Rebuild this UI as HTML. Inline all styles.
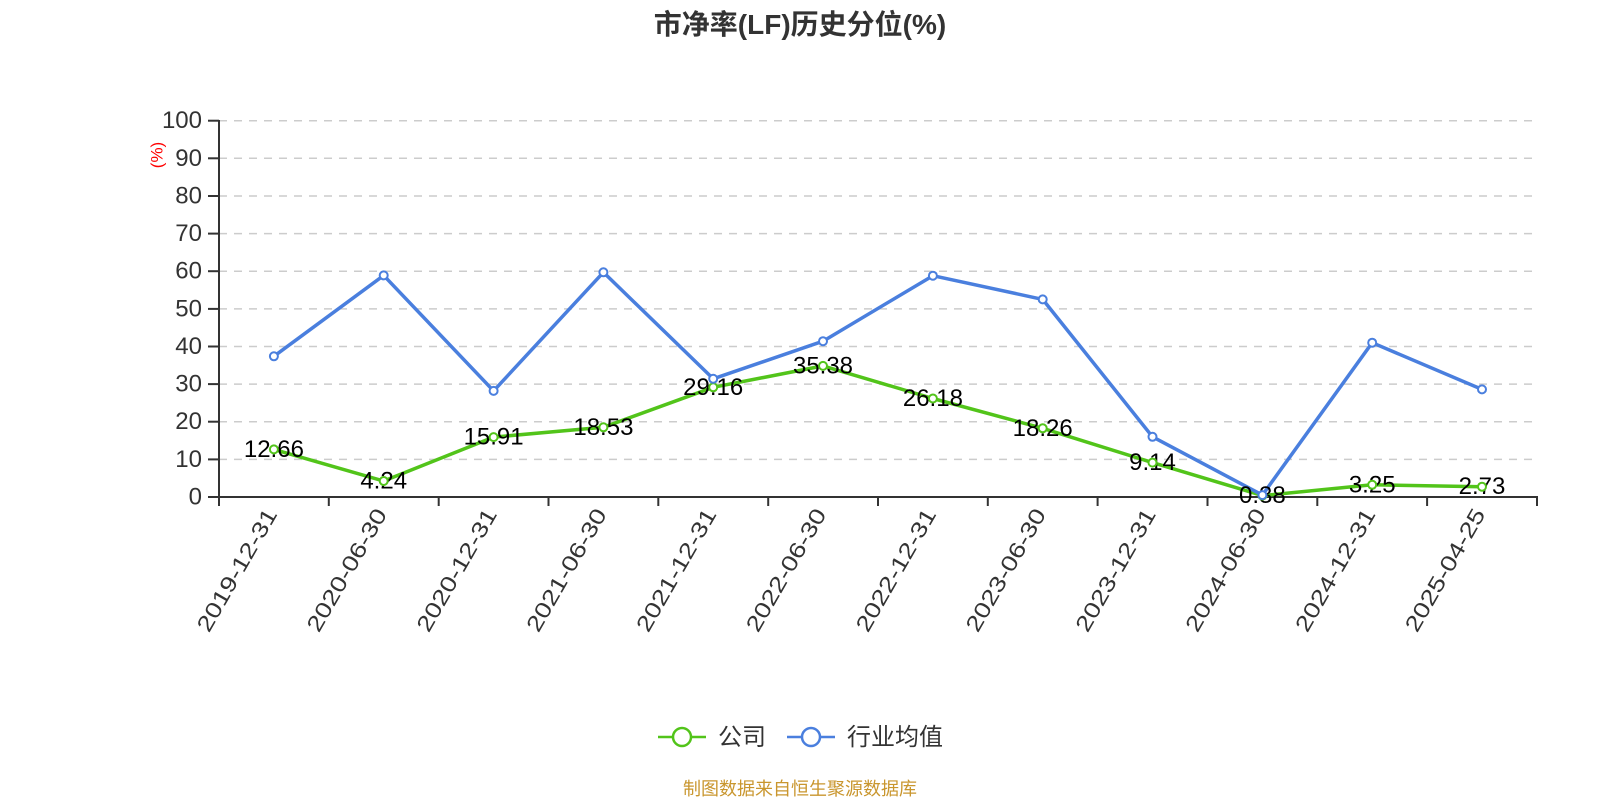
<!DOCTYPE html>
<html><head><meta charset="utf-8"><style>
html,body{margin:0;padding:0;background:#fff;}
svg{display:block;}
text{font-family:"Liberation Sans","Noto Sans CJK SC",sans-serif;}
</style></head><body>
<svg width="1600" height="800" viewBox="0 0 1600 800" xmlns="http://www.w3.org/2000/svg">
<text x="800" y="34" text-anchor="middle" font-size="28" font-weight="bold" fill="#333">市净率(LF)历史分位(%)</text>
<g stroke="#ccc" stroke-width="1.5" stroke-dasharray="8 7">
<line x1="219" y1="120.7" x2="1537" y2="120.7"/>
<line x1="219" y1="158.3" x2="1537" y2="158.3"/>
<line x1="219" y1="196" x2="1537" y2="196"/>
<line x1="219" y1="233.6" x2="1537" y2="233.6"/>
<line x1="219" y1="271.2" x2="1537" y2="271.2"/>
<line x1="219" y1="308.9" x2="1537" y2="308.9"/>
<line x1="219" y1="346.5" x2="1537" y2="346.5"/>
<line x1="219" y1="384.1" x2="1537" y2="384.1"/>
<line x1="219" y1="421.7" x2="1537" y2="421.7"/>
<line x1="219" y1="459.4" x2="1537" y2="459.4"/>
</g>
<g stroke="#333" stroke-width="2">
<line x1="219" y1="120" x2="219" y2="498"/>
<line x1="208" y1="120.7" x2="219" y2="120.7"/>
<line x1="208" y1="158.3" x2="219" y2="158.3"/>
<line x1="208" y1="196" x2="219" y2="196"/>
<line x1="208" y1="233.6" x2="219" y2="233.6"/>
<line x1="208" y1="271.2" x2="219" y2="271.2"/>
<line x1="208" y1="308.9" x2="219" y2="308.9"/>
<line x1="208" y1="346.5" x2="219" y2="346.5"/>
<line x1="208" y1="384.1" x2="219" y2="384.1"/>
<line x1="208" y1="421.7" x2="219" y2="421.7"/>
<line x1="208" y1="459.4" x2="219" y2="459.4"/>
<line x1="208" y1="497" x2="219" y2="497"/>
<line x1="218" y1="497" x2="1538" y2="497"/>
<line x1="219" y1="497" x2="219" y2="506"/>
<line x1="328.8" y1="497" x2="328.8" y2="506"/>
<line x1="438.7" y1="497" x2="438.7" y2="506"/>
<line x1="548.5" y1="497" x2="548.5" y2="506"/>
<line x1="658.3" y1="497" x2="658.3" y2="506"/>
<line x1="768.2" y1="497" x2="768.2" y2="506"/>
<line x1="878" y1="497" x2="878" y2="506"/>
<line x1="987.8" y1="497" x2="987.8" y2="506"/>
<line x1="1097.6" y1="497" x2="1097.6" y2="506"/>
<line x1="1207.5" y1="497" x2="1207.5" y2="506"/>
<line x1="1317.3" y1="497" x2="1317.3" y2="506"/>
<line x1="1427.1" y1="497" x2="1427.1" y2="506"/>
<line x1="1537" y1="497" x2="1537" y2="506"/>
</g>
<g font-size="24" fill="#333" text-anchor="end" dominant-baseline="central">
<text x="202" y="120.7">100</text>
<text x="202" y="158.3">90</text>
<text x="202" y="196">80</text>
<text x="202" y="233.6">70</text>
<text x="202" y="271.2">60</text>
<text x="202" y="308.9">50</text>
<text x="202" y="346.5">40</text>
<text x="202" y="384.1">30</text>
<text x="202" y="421.7">20</text>
<text x="202" y="459.4">10</text>
<text x="202" y="497">0</text>
</g>
<text transform="translate(157,155) rotate(-90)" text-anchor="middle" dominant-baseline="central" font-size="17" fill="#f00">(%)</text>
<g font-size="22" fill="#333" text-anchor="middle" dominant-baseline="central">
<text transform="translate(236.9,570) rotate(-60)" textLength="138" lengthAdjust="spacingAndGlyphs">2019-12-31</text>
<text transform="translate(346.7,570) rotate(-60)" textLength="138" lengthAdjust="spacingAndGlyphs">2020-06-30</text>
<text transform="translate(456.6,570) rotate(-60)" textLength="138" lengthAdjust="spacingAndGlyphs">2020-12-31</text>
<text transform="translate(566.4,570) rotate(-60)" textLength="138" lengthAdjust="spacingAndGlyphs">2021-06-30</text>
<text transform="translate(676.2,570) rotate(-60)" textLength="138" lengthAdjust="spacingAndGlyphs">2021-12-31</text>
<text transform="translate(786,570) rotate(-60)" textLength="138" lengthAdjust="spacingAndGlyphs">2022-06-30</text>
<text transform="translate(895.9,570) rotate(-60)" textLength="138" lengthAdjust="spacingAndGlyphs">2022-12-31</text>
<text transform="translate(1005.7,570) rotate(-60)" textLength="138" lengthAdjust="spacingAndGlyphs">2023-06-30</text>
<text transform="translate(1115.5,570) rotate(-60)" textLength="138" lengthAdjust="spacingAndGlyphs">2023-12-31</text>
<text transform="translate(1225.4,570) rotate(-60)" textLength="138" lengthAdjust="spacingAndGlyphs">2024-06-30</text>
<text transform="translate(1335.2,570) rotate(-60)" textLength="138" lengthAdjust="spacingAndGlyphs">2024-12-31</text>
<text transform="translate(1445,570) rotate(-60)" textLength="138" lengthAdjust="spacingAndGlyphs">2025-04-25</text>
</g>
<polyline fill="none" stroke="#52c41a" stroke-width="3.5" stroke-linejoin="round" points="273.9,449.4 383.7,481 493.6,437.1 603.4,427.3 713.2,387.3 823,365.9 932.9,398.5 1042.7,428.3 1152.5,462.6 1262.4,495.6 1372.2,484.8 1482,486.7"/>
<polyline fill="none" stroke="#4a7fde" stroke-width="3.5" stroke-linejoin="round" points="273.9,356.3 383.7,275.4 493.6,390.9 603.4,272.3 713.2,378.8 823,341.2 932.9,275.7 1042.7,299.4 1152.5,436.8 1262.4,495.1 1372.2,342.7 1482,389.4"/>
<g font-size="24" fill="#000" text-anchor="middle">
<text x="273.9" y="456.9">12.66</text>
<text x="383.7" y="488.5">4.24</text>
<text x="493.6" y="444.6">15.91</text>
<text x="603.4" y="434.8">18.53</text>
<text x="713.2" y="394.8">29.16</text>
<text x="823" y="373.4">35.38</text>
<text x="932.9" y="406">26.18</text>
<text x="1042.7" y="435.8">18.26</text>
<text x="1152.5" y="470.1">9.14</text>
<text x="1262.4" y="503.1">0.38</text>
<text x="1372.2" y="492.3">3.25</text>
<text x="1482" y="494.2">2.73</text>
</g>
<g fill="#fff" stroke="#52c41a" stroke-width="2">
<circle cx="273.9" cy="449.4" r="4"/><circle cx="383.7" cy="481" r="4"/><circle cx="493.6" cy="437.1" r="4"/><circle cx="603.4" cy="427.3" r="4"/><circle cx="713.2" cy="387.3" r="4"/><circle cx="823" cy="365.9" r="4"/><circle cx="932.9" cy="398.5" r="4"/><circle cx="1042.7" cy="428.3" r="4"/><circle cx="1152.5" cy="462.6" r="4"/><circle cx="1262.4" cy="495.6" r="4"/><circle cx="1372.2" cy="484.8" r="4"/><circle cx="1482" cy="486.7" r="4"/>
</g>
<g fill="#fff" stroke="#4a7fde" stroke-width="2">
<circle cx="273.9" cy="356.3" r="4"/><circle cx="383.7" cy="275.4" r="4"/><circle cx="493.6" cy="390.9" r="4"/><circle cx="603.4" cy="272.3" r="4"/><circle cx="713.2" cy="378.8" r="4"/><circle cx="823" cy="341.2" r="4"/><circle cx="932.9" cy="275.7" r="4"/><circle cx="1042.7" cy="299.4" r="4"/><circle cx="1152.5" cy="436.8" r="4"/><circle cx="1262.4" cy="495.1" r="4"/><circle cx="1372.2" cy="342.7" r="4"/><circle cx="1482" cy="389.4" r="4"/>
</g>
<line x1="658" y1="737" x2="706" y2="737" stroke="#52c41a" stroke-width="2.5"/>
<circle cx="682" cy="737" r="9" fill="#fff" stroke="#52c41a" stroke-width="2.5"/>
<text x="718" y="745" font-size="24" fill="#333">公司</text>
<line x1="787" y1="737" x2="835" y2="737" stroke="#4a7fde" stroke-width="2.5"/>
<circle cx="811" cy="737" r="9" fill="#fff" stroke="#4a7fde" stroke-width="2.5"/>
<text x="847" y="745" font-size="24" fill="#333">行业均值</text>
<text x="800" y="795" text-anchor="middle" font-size="18" fill="#c9962e">制图数据来自恒生聚源数据库</text>
</svg>
</body></html>
